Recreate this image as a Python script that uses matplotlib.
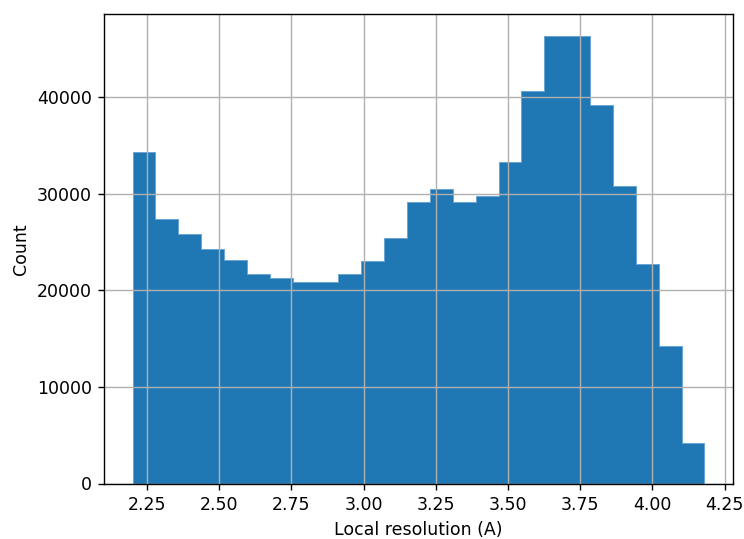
import numpy as np
import matplotlib
matplotlib.use("Agg")
import matplotlib.pyplot as plt

# Histogram data
bin_min = 2.2
bin_max = 4.18
n_bins = 25
counts = [34300, 27330, 25780, 24230, 23130, 21720, 21310, 20830, 20830, 21720,
          23000, 25370, 29150, 30470, 29150, 29740, 33220, 40590, 46270, 46270,
          39140, 30740, 22750, 14220, 4230]
xlabel = "Local resolution (A)"
ylabel = "Count"

edges = np.linspace(bin_min, bin_max, n_bins + 1)
centers = (edges[:-1] + edges[1:]) / 2

W, H, DPI = 744, 539, 125
fig = plt.figure(figsize=(W / DPI, H / DPI), dpi=DPI)
ax = fig.add_axes([104 / W, 1 - 483.5 / H, (733 - 104) / W, (483.5 - 14) / H])
ax.hist(centers, bins=edges, weights=counts, histtype="stepfilled",
        facecolor="#1f77b4", edgecolor="#6aa5d4", linewidth=0.6)
ax.grid(True)
ax.set_xlabel(xlabel)
ax.set_ylabel(ylabel)
ax.set_xticks([2.25, 2.5, 2.75, 3.0, 3.25, 3.5, 3.75, 4.0, 4.25])
fig.savefig("out.png", dpi=DPI)
